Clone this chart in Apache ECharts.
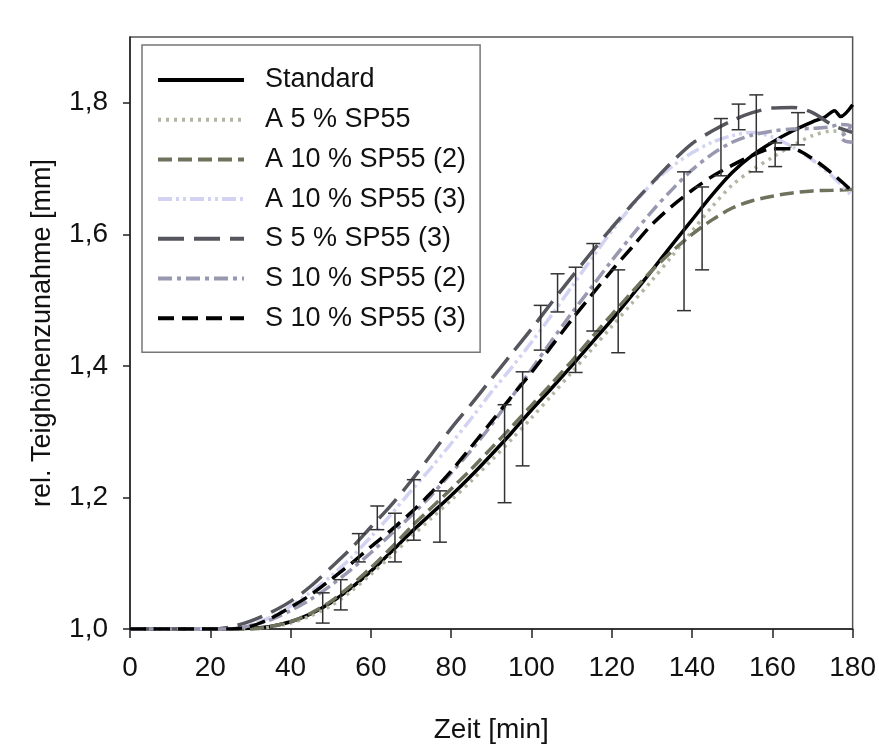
<!DOCTYPE html>
<html>
<head>
<meta charset="utf-8">
<script src="https://cdn.jsdelivr.net/npm/echarts@6/dist/echarts.min.js"></script>
<style>html,body{margin:0;padding:0;background:#fff}#c{width:879px;height:749px}</style>
</head>
<body>
<div id="c"></div>
<script>
// ---- data (time [min], rel. height) ----
const seriesNames = ['Standard','A 5 % SP55','A 10 % SP55 (2)','A 10 % SP55 (3)','S 5 % SP55 (3)','S 10 % SP55 (2)','S 10 % SP55 (3)'];
const xTicks = [0,20,40,60,80,100,120,140,160,180];
const yTicks = [1.0,1.2,1.4,1.6,1.8];

const standard = [[0,1],[10,1],[20,1],[25,1],[30,1.001],[35,1.004],[40,1.011],[45,1.023],[50,1.040],[55,1.062],[60,1.088],[65,1.117],[70,1.147],[75,1.175],[80,1.203],[85,1.233],[90,1.265],[95,1.298],[100,1.333],[105,1.366],[110,1.400],[115,1.435],[120,1.470],[125,1.507],[130,1.545],[135,1.584],[140,1.622],[145,1.660],[150,1.694],[155,1.720],[160,1.740],[165,1.757],[170,1.771],[173,1.778],[175.5,1.788],[177,1.779],[180,1.797]];
const a5 = [[0,1],[10,1],[20,1],[25,1],[30,1.0],[35,1.003],[40,1.009],[45,1.020],[50,1.035],[55,1.057],[60,1.083],[65,1.111],[70,1.140],[75,1.168],[80,1.196],[85,1.225],[90,1.256],[95,1.288],[100,1.321],[105,1.355],[110,1.390],[115,1.425],[120,1.460],[125,1.495],[130,1.530],[135,1.567],[140,1.605],[145,1.642],[150,1.675],[155,1.698],[160,1.717],[165,1.735],[170,1.750],[175,1.757],[180,1.755]];
const a10_2 = [[0,1],[10,1],[20,1],[25,1],[30,1.0],[35,1.004],[40,1.011],[45,1.024],[50,1.042],[55,1.066],[60,1.093],[65,1.123],[70,1.155],[75,1.184],[80,1.213],[85,1.243],[90,1.275],[95,1.307],[100,1.340],[105,1.373],[110,1.407],[115,1.443],[120,1.478],[125,1.512],[130,1.545],[135,1.574],[140,1.600],[145,1.622],[150,1.640],[155,1.651],[160,1.658],[165,1.663],[170,1.666],[175,1.667],[180,1.668]];
const a10_3 = [[0,1],[10,1],[20,1],[25,1],[30,1.006],[35,1.018],[40,1.035],[45,1.056],[50,1.080],[55,1.108],[60,1.140],[65,1.174],[70,1.210],[75,1.245],[80,1.282],[85,1.320],[90,1.360],[95,1.397],[100,1.436],[105,1.477],[110,1.520],[115,1.563],[120,1.605],[125,1.643],[130,1.677],[135,1.703],[140,1.724],[145,1.740],[150,1.750],[155,1.755],[160,1.748],[165,1.733],[170,1.713],[175,1.688],[180,1.657]];
const s5_3 = [[0,1],[10,1],[20,1],[25,1.003],[30,1.012],[35,1.025],[40,1.042],[45,1.065],[50,1.093],[55,1.122],[60,1.155],[65,1.188],[70,1.225],[75,1.265],[80,1.305],[85,1.342],[90,1.380],[95,1.418],[100,1.456],[105,1.496],[110,1.535],[115,1.573],[120,1.610],[125,1.645],[130,1.678],[135,1.710],[140,1.738],[145,1.757],[150,1.773],[155,1.785],[160,1.792],[165,1.793],[170,1.785],[175,1.766],[180,1.755]];
const s10_2 = [[0,1],[10,1],[20,1],[25,1],[30,1.005],[35,1.014],[40,1.028],[45,1.045],[50,1.066],[55,1.090],[60,1.116],[65,1.144],[70,1.172],[75,1.203],[80,1.237],[85,1.272],[90,1.310],[95,1.352],[100,1.395],[105,1.438],[110,1.480],[115,1.520],[120,1.560],[125,1.598],[130,1.635],[135,1.668],[140,1.698],[145,1.722],[150,1.740],[155,1.751],[160,1.757],[165,1.760],[170,1.761],[174,1.763],[177,1.767],[179.5,1.765],[178.5,1.755],[177,1.748],[178,1.742],[180,1.740]];
const s10_3 = [[0,1],[10,1],[20,1],[25,1],[30,1.004],[35,1.016],[40,1.033],[45,1.052],[50,1.075],[55,1.099],[60,1.125],[65,1.150],[70,1.177],[75,1.207],[80,1.240],[85,1.277],[90,1.315],[95,1.353],[100,1.390],[105,1.430],[110,1.470],[115,1.508],[120,1.545],[125,1.580],[130,1.615],[135,1.643],[140,1.667],[145,1.688],[150,1.705],[155,1.720],[160,1.730],[165,1.730],[170,1.715],[175,1.692],[180,1.665]];

// error bars: [time, low, high]
const errorBars = [[48,1.009,1.055],[52.5,1.029,1.075],[57,1.102,1.145],[61.6,1.151,1.187],[66,1.102,1.176],[70.7,1.135,1.227],[77.2,1.132,1.210],[93.3,1.192,1.341],[97.8,1.248,1.391],[102.3,1.424,1.492],[106.5,1.482,1.540],[111,1.390,1.550],[115.4,1.453,1.586],[121.6,1.420,1.546],[138,1.484,1.695],[142.5,1.546,1.672],[147.2,1.689,1.776],[151.6,1.759,1.798],[156,1.695,1.812],[160.7,1.703,1.739],[166.4,1.736,1.785]];

const styles = [
  {color:'#000000', type:'solid', width:3.5},
  {color:'#b2b6a2', type:[3,5], width:3.5},
  {color:'#6f725c', type:[14,6], width:3.5},
  {color:'#d2d2f2', type:[14,4,3,4,3,4], width:3.5},
  {color:'#56565f', type:[26,10], width:3.5},
  {color:'#9898b0', type:[14,5,4,5], width:3.5},
  {color:'#000000', type:[16,8], width:3.5}
];
const datasets = [standard,a5,a10_2,a10_3,s5_3,s10_2,s10_3];
const FONT = 'Liberation Sans, Arial, sans-serif';

const chart = echarts.init(document.getElementById('c'));
const series = seriesNames.map((n,i)=>({
  name:n, type:'line', data:datasets[i], symbol:'none', smooth:0.3,
  lineStyle:{color:styles[i].color, type:styles[i].type, width:styles[i].width, cap:'butt'},
  itemStyle:{color:styles[i].color},
  z: 3
}));
series.push({
  name:'err', type:'custom', data:errorBars, z:5,
  encode:{x:0, y:[1,2]},
  renderItem:function(params, api){
    const t=api.value(0), lo=api.value(1), hi=api.value(2);
    const p1=api.coord([t,lo]), p2=api.coord([t,hi]);
    const w=7;
    const st={stroke:'#333', lineWidth:1.5};
    return {type:'group', children:[
      {type:'line', shape:{x1:p1[0],y1:p1[1],x2:p2[0],y2:p2[1]}, style:st},
      {type:'line', shape:{x1:p1[0]-w,y1:p1[1],x2:p1[0]+w,y2:p1[1]}, style:st},
      {type:'line', shape:{x1:p2[0]-w,y1:p2[1],x2:p2[0]+w,y2:p2[1]}, style:st}
    ]};
  }
});

chart.setOption({
  backgroundColor:'#ffffff',
  animation:false,
  grid:{left:130, right:19, top:37, bottom:120, show:true, borderColor:'#555', borderWidth:1.5, backgroundColor:'transparent'},
  legend:{
    data:seriesNames, orient:'vertical', left:142, top:45,
    padding:[21,14,20,14], itemWidth:86, itemHeight:28, itemGap:11.7,
    backgroundColor:'#fff', borderColor:'#777', borderWidth:1.5,
    itemStyle:{opacity:0, borderWidth:0},
    lineStyle:{width:4},
    textStyle:{fontFamily:FONT, fontSize:27, color:'#111', lineHeight:28, padding:[0,0,0,16]},
    selectedMode:false
  },
  xAxis:{
    type:'value', min:0, max:180, interval:20,
    name:'Zeit [min]', nameLocation:'middle', nameGap:87,
    nameTextStyle:{fontFamily:FONT, fontSize:28, color:'#111'},
    axisLine:{lineStyle:{color:'#222', width:1.5}},
    axisTick:{show:true, inside:false, length:9, customValues:xTicks, lineStyle:{color:'#222', width:1.5}},
    axisLabel:{fontFamily:FONT, fontSize:28, color:'#111', margin:25, customValues:xTicks},
    splitLine:{show:false}
  },
  yAxis:{
    type:'value', min:1.0, max:1.9, interval:0.2,
    name:'rel. Teighöhenzunahme [mm]', nameLocation:'middle', nameGap:74,
    nameTextStyle:{fontFamily:FONT, fontSize:27, color:'#111'},
    axisLine:{lineStyle:{color:'#222', width:1.5}},
    axisTick:{show:true, inside:false, length:7, customValues:yTicks, lineStyle:{color:'#222', width:1.5}},
    axisLabel:{fontFamily:FONT, fontSize:28, color:'#111', margin:22, customValues:yTicks,
      formatter:function(v){ return v>1.85 ? '' : v.toFixed(1).replace('.',','); }},
    splitLine:{show:false}
  },
  series:series
});
</script>
</body>
</html>
